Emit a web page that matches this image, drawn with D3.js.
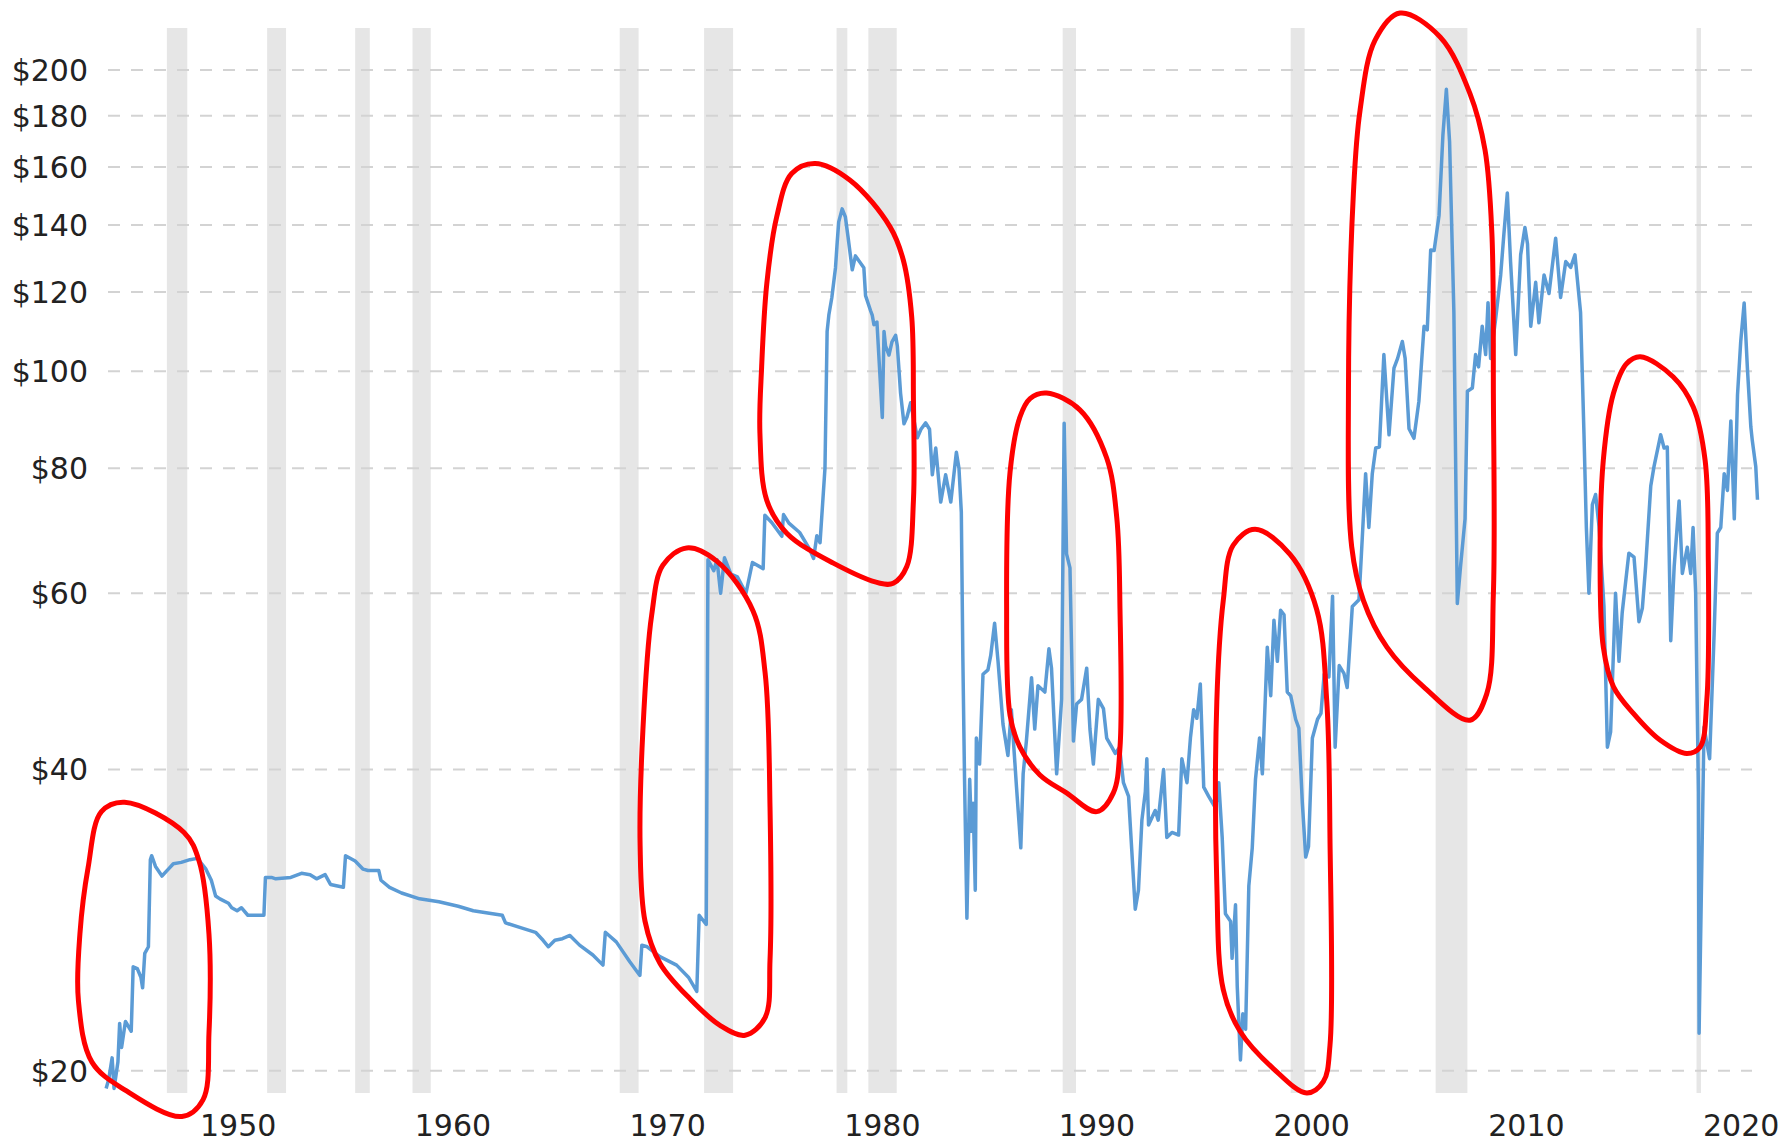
<!DOCTYPE html>
<html>
<head>
<meta charset="utf-8">
<script src="https://cdn.jsdelivr.net/npm/d3@7/dist/d3.min.js"></script>
<style>
  html, body { margin: 0; padding: 0; background: #fff; }
  svg { display: block; }
  .tick-label { font-family: "DejaVu Sans", Verdana, sans-serif; font-size: 30px; fill: #222; }
</style>
</head>
<body>
<svg id="chart" width="1783" height="1144"></svg>
<script>
// price axis ticks (log scale) and decade labels
const priceTicks = [20, 40, 60, 80, 100, 120, 140, 160, 180, 200];
const decadeTicks = [1950, 1960, 1970, 1980, 1990, 2000, 2010, 2020];

// US recessions (decimal years), drawn as grey bands
const recessionStarts = [1948.83, 1953.5, 1957.6, 1960.27, 1969.92, 1973.85, 1980.02, 1981.5, 1990.55, 2001.17, 2007.92, 2020.07];
const recessionEnds = [1949.78, 1954.38, 1958.28, 1961.12, 1970.8, 1975.2, 1980.52, 1982.82, 1991.17, 2001.82, 2009.4, 2020.28];

// inflation adjusted crude oil price, [decimal year, dollars]
const crudeSeries = [
  [1946.0, 19.2], [1946.12, 19.6], [1946.28, 20.6], [1946.37, 19.2], [1946.55, 20.4], [1946.63, 22.3],
  [1946.72, 21.1], [1946.9, 22.4], [1947.17, 21.9], [1947.26, 25.4], [1947.45, 25.3], [1947.62, 24.8],
  [1947.7, 24.2], [1947.8, 26.2], [1947.97, 26.6], [1948.06, 32.5], [1948.12, 32.8], [1948.3, 32.0],
  [1948.6, 31.3], [1948.9, 31.8], [1949.13, 32.2], [1949.5, 32.3], [1949.9, 32.5], [1950.25, 32.6],
  [1950.65, 31.8], [1950.9, 31.0], [1951.1, 29.9], [1951.3, 29.7], [1951.7, 29.4], [1951.85, 29.1],
  [1952.1, 28.9], [1952.3, 29.1], [1952.6, 28.6], [1953.35, 28.6], [1953.42, 31.2], [1953.7, 31.2],
  [1953.9, 31.1], [1954.6, 31.2], [1955.1, 31.5], [1955.5, 31.4], [1955.8, 31.1], [1956.2, 31.4],
  [1956.45, 30.7], [1957.05, 30.5], [1957.15, 32.8], [1957.6, 32.4], [1957.97, 31.8], [1958.2, 31.7],
  [1958.7, 31.7], [1958.8, 31.0], [1959.2, 30.5], [1959.76, 30.1], [1960.6, 29.7], [1961.5, 29.5],
  [1962.4, 29.2], [1963.1, 28.9], [1964.0, 28.7], [1964.45, 28.6], [1964.6, 28.1], [1965.3, 27.8],
  [1966.0, 27.5], [1966.35, 27.0], [1966.6, 26.6], [1966.9, 27.0], [1967.25, 27.1], [1967.6, 27.3],
  [1968.05, 26.7], [1968.67, 26.1], [1969.14, 25.5], [1969.25, 27.5], [1969.76, 26.9], [1970.39, 25.7],
  [1970.86, 24.9], [1970.95, 26.7], [1971.2, 26.6], [1971.79, 26.0], [1972.57, 25.5], [1973.12, 24.8],
  [1973.51, 24.0], [1973.62, 28.6], [1973.95, 28.0], [1974.03, 64.8], [1974.3, 63.2], [1974.45, 64.8],
  [1974.62, 60.0], [1974.8, 65.1], [1975.1, 62.7], [1975.4, 62.3], [1975.8, 60.0], [1976.1, 64.4],
  [1976.6, 63.5], [1976.68, 71.8], [1977.0, 70.6], [1977.47, 68.4], [1977.55, 71.9], [1977.8, 70.5],
  [1978.3, 69.0], [1978.75, 66.5], [1978.95, 65.0], [1979.1, 68.5], [1979.25, 67.4], [1979.48, 80.0],
  [1979.58, 109.6], [1979.66, 113.8], [1979.8, 118.5], [1979.97, 126.9], [1980.05, 134.6], [1980.12, 141.0],
  [1980.28, 145.3], [1980.43, 142.6], [1980.55, 136.4], [1980.75, 126.3], [1980.9, 130.4], [1981.05, 129.0],
  [1981.29, 126.9], [1981.37, 119.0], [1981.6, 115.0], [1981.68, 113.8], [1981.76, 111.3], [1981.9, 112.0],
  [1982.15, 89.9], [1982.23, 109.6], [1982.3, 106.0], [1982.46, 103.8], [1982.6, 107.0], [1982.77, 108.6],
  [1982.85, 106.0], [1983.0, 95.1], [1983.16, 88.6], [1983.3, 90.0], [1983.47, 93.0], [1983.63, 89.2],
  [1983.78, 85.8], [1983.95, 87.5], [1984.17, 88.8], [1984.35, 87.5], [1984.48, 78.8], [1984.64, 83.8],
  [1984.87, 74.0], [1985.1, 78.8], [1985.34, 74.0], [1985.6, 83.0], [1985.72, 80.0], [1985.83, 72.3],
  [1985.9, 52.0], [1985.98, 39.1], [1986.09, 28.4], [1986.22, 39.1], [1986.3, 34.7], [1986.38, 37.0],
  [1986.48, 30.3], [1986.53, 43.0], [1986.68, 40.5], [1986.84, 49.8], [1987.07, 50.3], [1987.2, 52.0],
  [1987.38, 56.0], [1987.54, 51.3], [1987.77, 44.4], [1988.0, 41.3], [1988.16, 45.9], [1988.4, 38.4],
  [1988.6, 33.4], [1988.71, 39.6], [1988.86, 42.7], [1989.1, 49.4], [1989.25, 43.9], [1989.4, 48.5],
  [1989.72, 47.8], [1989.91, 52.8], [1990.03, 50.5], [1990.27, 39.6], [1990.5, 47.0], [1990.62, 88.7],
  [1990.73, 65.7], [1990.89, 63.6], [1991.05, 42.7], [1991.2, 46.5], [1991.43, 47.0], [1991.67, 50.5],
  [1991.82, 43.9], [1991.98, 40.5], [1992.21, 47.0], [1992.45, 46.0], [1992.6, 43.0], [1992.84, 42.1],
  [1993.0, 41.5], [1993.2, 42.1], [1993.38, 38.8], [1993.62, 37.6], [1993.93, 29.0], [1994.08, 30.3],
  [1994.24, 35.6], [1994.4, 38.0], [1994.47, 41.0], [1994.55, 35.2], [1994.86, 36.4], [1995.0, 35.6],
  [1995.25, 40.0], [1995.4, 34.2], [1995.64, 34.6], [1995.95, 34.4], [1996.1, 41.0], [1996.34, 38.8],
  [1996.5, 43.0], [1996.65, 45.9], [1996.8, 45.0], [1996.96, 48.7], [1997.12, 38.4], [1997.35, 37.6],
  [1997.67, 36.6], [1997.82, 38.8], [1997.98, 34.2], [1998.13, 28.7], [1998.37, 28.2], [1998.44, 25.9],
  [1998.6, 29.3], [1998.68, 24.3], [1998.83, 20.5], [1998.94, 22.8], [1999.07, 22.0], [1999.22, 30.6],
  [1999.38, 33.4], [1999.53, 39.1], [1999.72, 43.0], [1999.85, 39.6], [2000.08, 53.0], [2000.24, 47.4],
  [2000.39, 56.4], [2000.55, 51.3], [2000.7, 57.7], [2000.86, 57.1], [2001.01, 47.8], [2001.17, 47.4],
  [2001.4, 44.9], [2001.55, 44.0], [2001.71, 37.1], [2001.87, 32.7], [2002.0, 33.5], [2002.18, 43.0],
  [2002.42, 44.9], [2002.58, 45.5], [2002.73, 49.8], [2002.95, 49.5], [2003.12, 59.6], [2003.24, 42.1],
  [2003.43, 50.8], [2003.65, 49.9], [2003.8, 48.3], [2004.04, 58.2], [2004.35, 59.1], [2004.5, 67.9],
  [2004.66, 79.0], [2004.81, 69.8], [2004.97, 79.0], [2005.13, 83.8], [2005.3, 84.0], [2005.51, 103.9],
  [2005.75, 86.4], [2005.98, 100.7], [2006.15, 103.0], [2006.37, 107.1], [2006.5, 103.0], [2006.68, 87.6],
  [2006.91, 85.7], [2007.14, 93.3], [2007.38, 110.9], [2007.53, 110.0], [2007.69, 132.2], [2007.85, 132.0],
  [2008.08, 143.2], [2008.26, 172.3], [2008.42, 191.3], [2008.57, 169.5], [2008.77, 114.5], [2008.93, 58.6],
  [2009.08, 63.8], [2009.29, 71.2], [2009.4, 95.5], [2009.63, 96.2], [2009.78, 103.9], [2009.92, 101.0],
  [2010.09, 110.9], [2010.25, 103.9], [2010.36, 117.1], [2010.48, 103.0], [2010.71, 112.6], [2010.95, 124.8],
  [2011.1, 137.2], [2011.26, 150.7], [2011.41, 128.7], [2011.65, 103.9], [2011.88, 130.7], [2012.08, 139.2],
  [2012.2, 134.0], [2012.35, 110.9], [2012.58, 122.7], [2012.73, 111.8], [2012.97, 124.8], [2013.2, 119.6],
  [2013.51, 135.8], [2013.74, 118.5], [2013.98, 128.7], [2014.21, 127.0], [2014.41, 130.7], [2014.67, 114.5],
  [2014.83, 86.4], [2014.94, 69.8], [2015.06, 60.0], [2015.22, 73.6], [2015.37, 75.3], [2015.53, 70.0],
  [2015.76, 58.2], [2015.92, 42.1], [2016.07, 43.6], [2016.3, 60.0], [2016.46, 51.3], [2016.61, 57.4],
  [2016.92, 65.8], [2017.16, 65.2], [2017.39, 56.2], [2017.55, 58.0], [2017.7, 63.8], [2017.94, 76.8],
  [2018.09, 80.3], [2018.4, 86.4], [2018.56, 83.8], [2018.71, 84.0], [2018.87, 53.8], [2019.03, 63.8],
  [2019.26, 74.2], [2019.41, 62.8], [2019.64, 66.7], [2019.8, 62.8], [2019.91, 69.8], [2020.03, 60.0],
  [2020.16, 38.0], [2020.19, 21.8], [2020.32, 32.4], [2020.42, 44.1], [2020.68, 41.0], [2020.89, 54.6],
  [2021.04, 68.9], [2021.2, 69.8], [2021.36, 79.0], [2021.51, 76.0], [2021.67, 89.2], [2021.83, 71.2],
  [2021.98, 94.7], [2022.13, 107.1], [2022.29, 117.0], [2022.44, 100.7], [2022.6, 88.0], [2022.67, 85.2],
  [2022.83, 80.3], [2022.91, 74.4]
];

// hand drawn red loops around the big moves, [decimal year, dollars]
const highlightLoops = [
  [[1946.86, 37.1], [1949.63, 34.6], [1950.33, 32.4], [1950.79, 27.4], [1950.79, 21.8], [1950.51, 18.7],
   [1949.53, 18.0], [1946.93, 19.1], [1945.34, 20.4], [1944.71, 23.5], [1944.78, 27.4], [1945.16, 31.9], [1945.78, 36.3]],
  [[1973.04, 66.6], [1974.44, 64.6], [1976.13, 57.6], [1976.69, 50.0], [1976.92, 36.7], [1976.92, 25.8],
   [1976.69, 22.6], [1975.76, 21.7], [1974.59, 22.2], [1973.19, 23.6], [1971.8, 25.6], [1971.1, 28.2],
   [1970.87, 33.6], [1971.0, 43.8], [1971.41, 57.1], [1971.93, 64.0]],
  [[1979.02, 161.3], [1980.65, 155.2], [1982.51, 139.4], [1983.13, 129.1], [1983.52, 113.3], [1983.6, 93.6],
   [1983.6, 74.3], [1983.29, 63.8], [1982.66, 61.4], [1982.04, 61.4], [1979.87, 64.3], [1977.7, 68.9],
   [1976.77, 74.3], [1976.45, 86.7], [1976.53, 101.0], [1976.77, 122.3], [1977.23, 142.6], [1977.93, 157.6]],
  [[1989.8, 95.1], [1991.35, 91.5], [1992.6, 81.9], [1993.07, 71.4], [1993.22, 57.8], [1993.22, 42.1],
   [1992.91, 37.9], [1992.14, 36.3], [1990.73, 37.9], [1989.49, 39.5], [1988.56, 42.1], [1988.1, 45.3],
   [1987.94, 57.8], [1988.1, 79.3], [1988.56, 90.0], [1989.03, 93.9]],
  [[1999.51, 69.5], [2001.14, 65.6], [2002.38, 57.8], [2002.85, 46.8], [2003.0, 34.1], [2003.0, 21.2],
   [2002.69, 19.5], [2001.92, 19.0], [2000.36, 20.1], [1998.81, 21.9], [1998.03, 24.1], [1997.73, 30.7],
   [1997.73, 46.8], [1998.03, 59.0], [1998.49, 67.0]],
  [[2006.26, 228.0], [2008.13, 215.8], [2009.52, 189.4], [2010.22, 166.4], [2010.54, 137.3], [2010.61, 95.0],
   [2010.61, 60.0], [2010.3, 47.6], [2009.52, 44.8], [2007.35, 48.4], [2005.65, 53.0], [2004.56, 59.0],
   [2004.01, 66.8], [2003.86, 95.0], [2004.09, 150.5], [2004.4, 182.3], [2005.1, 214.2]],
  [[2017.45, 103.4], [2018.99, 98.7], [2019.92, 92.1], [2020.47, 81.5], [2020.62, 64.7], [2020.55, 46.9],
   [2020.23, 42.1], [2019.62, 41.5], [2018.37, 42.8], [2017.13, 45.5], [2016.2, 48.4], [2015.73, 53.0],
   [2015.58, 64.7], [2015.73, 81.5], [2016.2, 95.0], [2016.82, 101.8]]
];

// layout
const plotTop = 28;
const plotBottom = 1093;
const gridLeft = 108;
const gridRight = 1752;

const svg = d3.select('#chart');

const x = d3.scaleLinear().domain([1950, 2020]).range([192, 1695]);
const y = d3.scaleLog().domain([20, 200]).range([1070.7, 70]);

// recession bands
svg.append('g').attr('class', 'recessions')
  .selectAll('rect')
  .data(d3.zip(recessionStarts, recessionEnds))
  .join('rect')
  .attr('x', d => x(d[0]))
  .attr('y', plotTop)
  .attr('width', d => Math.max(4, x(d[1]) - x(d[0])))
  .attr('height', plotBottom - plotTop)
  .attr('fill', '#e6e6e6');

// dashed horizontal grid
svg.append('g').attr('class', 'grid')
  .selectAll('line')
  .data(priceTicks)
  .join('line')
  .attr('x1', gridLeft)
  .attr('x2', gridRight)
  .attr('y1', d => y(d))
  .attr('y2', d => y(d))
  .attr('stroke', '#d3d3d3')
  .attr('stroke-width', 2)
  .attr('stroke-dasharray', '12 11');

// price labels
svg.append('g')
  .selectAll('text')
  .data(priceTicks)
  .join('text')
  .attr('class', 'tick-label')
  .attr('x', 88)
  .attr('y', d => y(d))
  .attr('dy', '0.36em')
  .attr('text-anchor', 'end')
  .text(d => `$${d}`);

// decade labels sit just right of their tick
svg.append('g')
  .selectAll('text')
  .data(decadeTicks)
  .join('text')
  .attr('class', 'tick-label')
  .attr('x', d => x(d) + 8)
  .attr('y', 1136)
  .attr('text-anchor', 'start')
  .text(d => d);

// the price line
const line = d3.line()
  .x(d => x(d[0]))
  .y(d => y(d[1]));

svg.append('path')
  .datum(crudeSeries)
  .attr('fill', 'none')
  .attr('stroke', '#5b9bd5')
  .attr('stroke-width', 3.5)
  .attr('stroke-linejoin', 'round')
  .attr('d', line);

// red loops on top
const loop = d3.line()
  .curve(d3.curveCatmullRomClosed.alpha(0.5))
  .x(d => x(d[0]))
  .y(d => y(d[1]));

svg.append('g').attr('class', 'highlights')
  .selectAll('path')
  .data(highlightLoops)
  .join('path')
  .attr('fill', 'none')
  .attr('stroke', '#ff0000')
  .attr('stroke-width', 5)
  .attr('d', loop);
</script>
</body>
</html>
